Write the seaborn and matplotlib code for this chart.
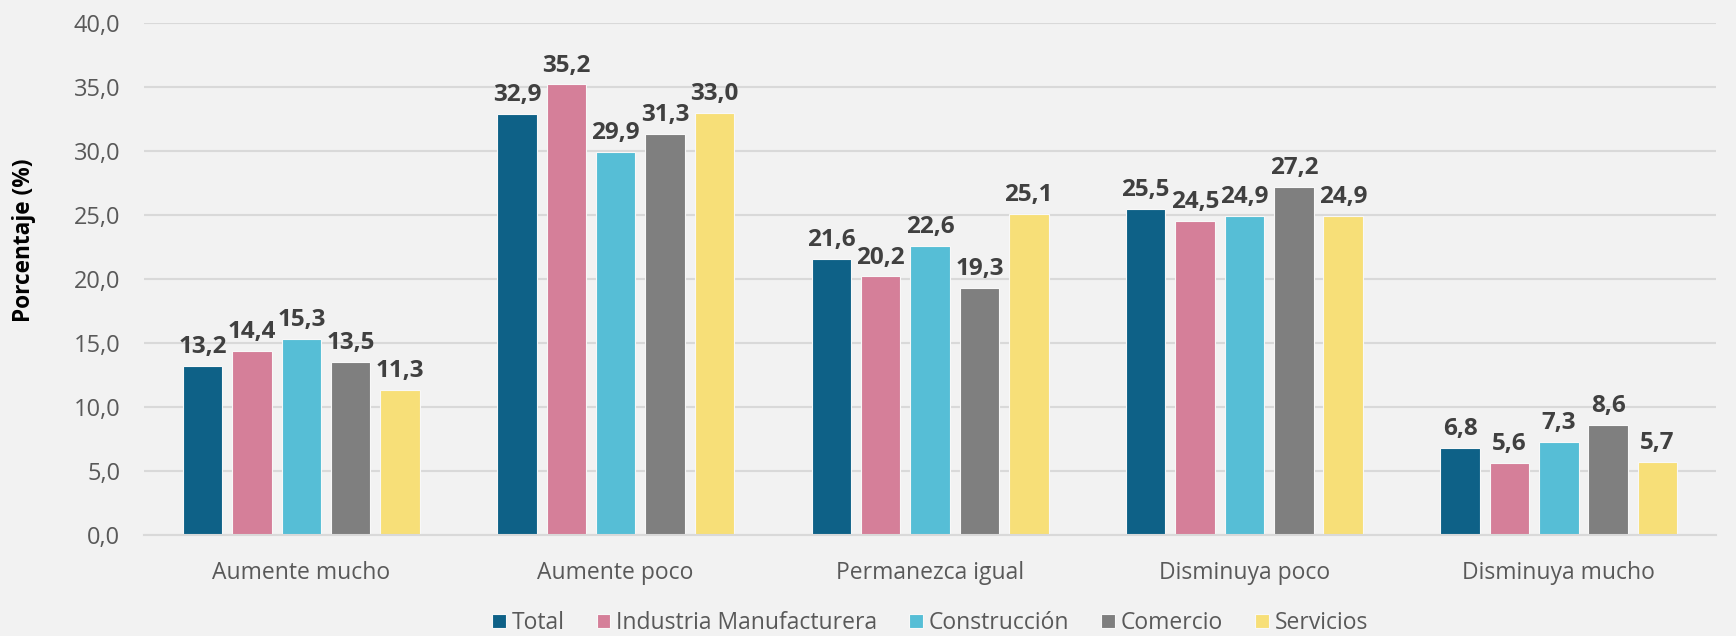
import matplotlib
matplotlib.use("Agg")
import matplotlib.pyplot as plt
import seaborn as sns
import pandas as pd

categories = ["Aumente mucho", "Aumente poco", "Permanezca igual", "Disminuya poco", "Disminuya mucho"]
series_names = ["Total", "Industria Manufacturera", "Construcción", "Comercio", "Servicios"]
total = [13.2, 32.9, 21.6, 25.5, 6.8]
industria = [14.4, 35.2, 20.2, 24.5, 5.6]
construccion = [15.3, 29.9, 22.6, 24.9, 7.3]
comercio = [13.5, 31.3, 19.3, 27.2, 8.6]
servicios = [11.3, 33.0, 25.1, 24.9, 5.7]
yticks = [0, 5, 10, 15, 20, 25, 30, 35, 40]

colors = ["#0E6187", "#D57F99", "#56BED6", "#7F7F7F", "#F7DF78"]

rows = []
for name, vals in zip(series_names, [total, industria, construccion, comercio, servicios]):
    for c, v in zip(categories, vals):
        rows.append({"cat": c, "serie": name, "val": v})
df = pd.DataFrame(rows)

sns.set_theme(style="white")
plt.rcParams["font.family"] = ["Open Sans", "DejaVu Sans"]

bg = "#F2F2F2"
fig = plt.figure(figsize=(17.36, 6.36), dpi=100, facecolor=bg)
ax = fig.add_axes([0.083, 0.1588, 0.9055, 0.805])
ax.set_facecolor(bg)

sns.barplot(data=df, x="cat", y="val", hue="serie", order=categories,
            hue_order=series_names, palette=colors, width=0.785, gap=0.2,
            ax=ax, legend=True, saturation=1, edgecolor="#F8F8F8", linewidth=0.8)

for cont in ax.containers:
    labels = [f"{b.get_height():.1f}".replace(".", ",") for b in cont]
    ax.bar_label(cont, labels=labels, padding=5, fontsize=17.5, fontweight="bold", color="#404040")

ax.set_ylim(0, 40)
ax.set_yticks(yticks)
ax.set_yticklabels([f"{t:.1f}".replace(".", ",") for t in yticks])
ax.yaxis.grid(True, color="#D9D9D9", linewidth=1.5)
ax.set_axisbelow(True)
for s in ["top", "right", "left"]:
    ax.spines[s].set_visible(False)
ax.spines["bottom"].set_color("#D9D9D9")
ax.spines["bottom"].set_linewidth(1.5)
ax.tick_params(axis="y", length=0, pad=17, labelsize=17, labelcolor="#595959")
ax.tick_params(axis="x", length=0, pad=19, labelsize=16.5, labelcolor="#595959")
ax.set_xlabel("")
ax.set_ylabel("Porcentaje (%)", fontsize=16.3, fontweight="bold", color="#000000")
ax.yaxis.set_label_coords(-0.069, 0.576)
ax.set_xlim(-0.5, 4.5)

handles, labs = ax.get_legend_handles_labels()
leg = ax.legend(handles, labs, loc="center", bbox_to_anchor=(0.5, -0.172), ncol=5,
                frameon=False, fontsize=16.5, handlelength=0.6, handleheight=0.6,
                handletextpad=0.25, columnspacing=1.4, labelcolor="#595959",
                borderpad=0.1)

fig.savefig("out.png", dpi=100, facecolor=bg)
